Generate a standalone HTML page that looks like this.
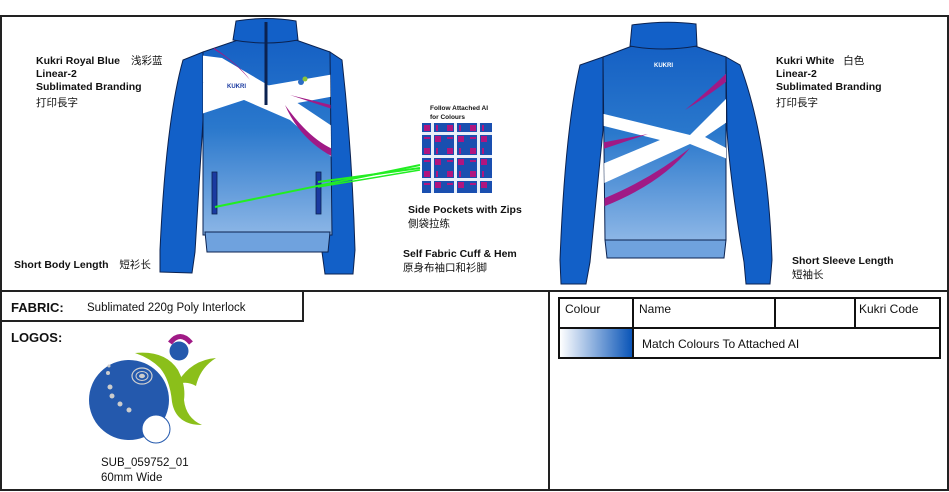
<!DOCTYPE html>
<html><head><meta charset="utf-8"><style>
html,body{margin:0;padding:0;background:#fff;}
svg{display:block}
text{font-family:"Liberation Sans","Noto Sans CJK SC",sans-serif;fill:#111;}
</style></head><body>
<svg width="949" height="492" viewBox="0 0 949 492" xmlns="http://www.w3.org/2000/svg">
<defs>
<linearGradient id="bodyg" x1="0" y1="0" x2="0" y2="1">
<stop offset="0" stop-color="#1560c4"/><stop offset="0.45" stop-color="#2a78cc"/><stop offset="1" stop-color="#8cb6e6"/>
</linearGradient>
<linearGradient id="swg" x1="0" y1="0" x2="1" y2="0">
<stop offset="0" stop-color="#fff"/><stop offset="1" stop-color="#0a55b8"/>
</linearGradient>
<pattern id="plaid" width="23" height="23" patternUnits="userSpaceOnUse" x="422" y="123">
<rect width="23" height="23" fill="#1a4fb0"/>
<rect x="0" y="9" width="23" height="3" fill="#e8eef8"/>
<rect x="9" y="0" width="3" height="23" fill="#e8eef8"/>
<rect x="2" y="2" width="6" height="6" fill="#b0157f"/>
<rect x="13" y="13" width="6" height="6" fill="#b0157f"/>
<rect x="14" y="2" width="2" height="6" fill="#b0157f"/>
<rect x="2" y="14" width="6" height="2" fill="#b0157f"/>
</pattern>
<clipPath id="fbody"><path d="M203 52 L238 40 L296 40 L330 52 L332 235 L203 235 Z"/></clipPath>
<clipPath id="bbody"><path d="M603 57 L632 46 L695 46 L726 57 L726 240 L605 240 Z"/></clipPath>
</defs>

<rect x="1" y="16" width="947" height="474" fill="none" stroke="#222" stroke-width="2"/>
<line x1="1" y1="291" x2="948" y2="291" stroke="#222" stroke-width="2"/>
<line x1="549" y1="291" x2="549" y2="490" stroke="#222" stroke-width="2"/>
<rect x="1" y="291" width="302" height="30" fill="none" stroke="#222" stroke-width="2"/>

<!-- FRONT JACKET -->
<g stroke="#0b2250" stroke-width="1">
<path d="M203 52 L183 60 Q166 120 160 250 L160 272 L192 273 L195 252 Q200 170 203 120 Z" fill="#1260c8"/>
<path d="M330 52 L342 60 Q352 150 355 250 L353 274 L325 274 L322 252 Q330 170 330 120 Z" fill="#1260c8"/>
<path d="M203 52 L238 40 L296 40 L330 52 L332 235 L203 235 Z" fill="url(#bodyg)"/>
<path d="M205 232 L330 232 L328 252 L207 252 Z" fill="#6fa2de"/>
<path d="M233 40 L236 21 Q266 16 296 21 L298 40 Q266 46 233 40 Z" fill="#1260c8"/>
</g>
<g clip-path="url(#fbody)">
<path d="M198 55 L222 58 L290 98 L335 128 L335 160 L290 120 L198 80 Z" fill="#fff"/>
<path d="M198 82 L265 86 L335 74 L335 96 L292 104 L250 98 L198 115 Z" fill="#fff"/>
<path d="M210 45 Q240 65 250 80 Q235 62 215 50Z" fill="#a01a86"/>
<path d="M285 105 Q310 140 335 150 L335 158 Q300 140 285 105Z" fill="#a01a86"/>
<path d="M290 95 L335 106 L335 110 Z" fill="#a01a86"/>
</g>
<line x1="266" y1="22" x2="266" y2="105" stroke="#0b2250" stroke-width="3"/>
<text x="227" y="88" font-size="6" font-weight="bold" style="fill:#1a3aa0">KUKRI</text>
<circle cx="301" cy="82" r="3" fill="#2a6cc4"/><circle cx="305" cy="79" r="2.5" fill="#8bc33a"/>
<rect x="212" y="172" width="5" height="42" fill="#1a3aa0" stroke="#0b2250" stroke-width="0.8"/>
<rect x="316" y="172" width="5" height="42" fill="#1a3aa0" stroke="#0b2250" stroke-width="0.8"/>
<line x1="215" y1="207" x2="420" y2="165" stroke="#22ee22" stroke-width="2"/>
<line x1="318" y1="182" x2="420" y2="168" stroke="#22ee22" stroke-width="2"/>
<line x1="318" y1="187" x2="420" y2="170" stroke="#22ee22" stroke-width="1.5"/>

<rect x="422" y="123" width="70" height="70" fill="url(#plaid)"/>
<text x="430" y="110" font-size="6.5" font-weight="bold">Follow Attached AI</text>
<text x="430" y="119" font-size="6.5" font-weight="bold">for Colours</text>

<!-- BACK JACKET -->
<g stroke="#0b2250" stroke-width="1">
<path d="M603 57 L580 65 Q565 130 560 260 L561 284 L586 284 L590 262 Q598 180 603 130 Z" fill="#1260c8"/>
<path d="M726 57 L740 65 Q768 140 772 260 L770 284 L746 284 L744 262 Q730 180 727 130 Z" fill="#1260c8"/>
<path d="M603 57 L632 46 L695 46 L726 57 L726 240 L605 240 Z" fill="url(#bodyg)"/>
<path d="M605 240 L726 240 L724 258 L607 258 Z" fill="#6fa2de"/>
<path d="M630 46 L632 25 Q665 20 696 24 L697 46 Q663 52 630 46 Z" fill="#1260c8"/>
</g>
<g clip-path="url(#bbody)">
<path d="M600 113 L690 135 L730 95 L730 120 L705 137 L730 150 L730 160 L690 144 L600 185 L600 165 L660 140 L600 125 Z" fill="#fff"/>
<path d="M685 110 Q715 85 735 65 L735 75 Q710 95 685 110Z" fill="#a01a86"/>
<path d="M600 200 Q650 180 690 148 Q660 185 600 208Z" fill="#a01a86"/>
<path d="M600 143 L648 134 L600 150Z" fill="#a01a86"/>
</g>
<text x="654" y="67" font-size="6" font-weight="bold" style="fill:#fff">KUKRI</text>

<g font-size="10.5" font-weight="bold">
<text x="36" y="64">Kukri Royal Blue <tspan font-weight="normal" dx="8">浅彩蓝</tspan></text>
<text x="36" y="77">Linear-2</text>
<text x="36" y="90">Sublimated Branding</text>
<text x="36" y="106" font-weight="normal">打印長字</text>
<text x="14" y="268">Short Body Length <tspan font-weight="normal" dx="8">短衫长</tspan></text>
<text x="408" y="213">Side Pockets with Zips</text>
<text x="408" y="227" font-weight="normal">側袋拉练</text>
<text x="403" y="257">Self Fabric Cuff &amp; Hem</text>
<text x="403" y="271" font-weight="normal">原身布袖口和衫脚</text>
<text x="776" y="64">Kukri White <tspan font-weight="normal" dx="6">白色</tspan></text>
<text x="776" y="77">Linear-2</text>
<text x="776" y="90">Sublimated Branding</text>
<text x="776" y="106" font-weight="normal">打印長字</text>
<text x="792" y="264">Short Sleeve Length</text>
<text x="792" y="278" font-weight="normal">短袖长</text>
</g>

<text x="11" y="312" font-size="13" font-weight="bold">FABRIC:</text>
<text x="87" y="311" font-size="11.5">Sublimated 220g Poly Interlock</text>
<text x="11" y="342" font-size="13" font-weight="bold">LOGOS:</text>
<!-- logo -->
<path d="M135 353 Q165 350 178 370 Q186 385 184 400 Q186 418 202 425 Q176 425 172 402 Q170 380 160 368 Q150 358 135 353Z" fill="#8bbf1a"/>
<path d="M176 385 Q190 360 216 358 Q200 368 196 386 Q186 380 176 385Z" fill="#8bbf1a"/>
<circle cx="129" cy="400" r="40" fill="#2459ad"/>
<ellipse cx="142" cy="376" rx="10" ry="8" fill="none" stroke="#d0d0d0" stroke-width="1.2"/>
<ellipse cx="142" cy="376" rx="6" ry="4.5" fill="none" stroke="#d0d0d0" stroke-width="1"/>
<ellipse cx="142" cy="376" rx="3" ry="2.2" fill="#ccc"/>
<g fill="#ccc"><circle cx="109" cy="366" r="1.5"/><circle cx="108" cy="373" r="2"/><circle cx="110" cy="387" r="2.5"/><circle cx="112" cy="396" r="2.5"/><circle cx="120" cy="404" r="2.5"/><circle cx="129" cy="410" r="2.5"/></g>
<circle cx="156" cy="429" r="14" fill="#fff" stroke="#2459ad" stroke-width="1"/>
<path d="M170 343 Q180 330 191 343" fill="none" stroke="#a01a86" stroke-width="5"/>
<circle cx="179" cy="351" r="9.5" fill="#2459ad"/>
<text x="101" y="466" font-size="11.5">SUB_059752_01</text>
<text x="101" y="481" font-size="11.5">60mm Wide</text>

<g stroke="#111" stroke-width="2" fill="none">
<rect x="559" y="298" width="381" height="60"/>
<line x1="559" y1="328" x2="940" y2="328"/>
<line x1="633" y1="298" x2="633" y2="358"/>
<line x1="775" y1="298" x2="775" y2="328"/>
<line x1="855" y1="298" x2="855" y2="328"/>
</g>
<rect x="560" y="329" width="72" height="28" fill="url(#swg)"/>
<g font-size="12">
<text x="565" y="313">Colour</text>
<text x="639" y="313">Name</text>
<text x="859" y="313">Kukri Code</text>
<text x="642" y="348">Match Colours To Attached AI</text>
</g>
</svg>
</body></html>
